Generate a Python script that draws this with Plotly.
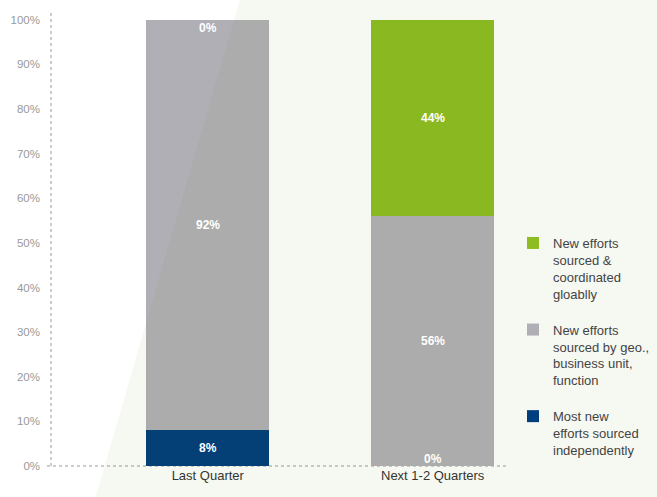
import plotly.graph_objects as go

categories = ["Last Quarter", "Next 1-2 Quarters"]
series_names = [
    "Most new<br>efforts sourced<br>independently",
    "New efforts<br>sourced by geo.,<br>business unit,<br>function",
    "New efforts<br>sourced &<br>coordinated<br>gloablly",
]
independent = [8, 0]
by_geo = [92, 56]
global_coord = [0, 44]
series_values = [independent, by_geo, global_coord]
series_colors = ["#003e7d", "#b0afb5", "#8ebc22"]
y_ticks = [0, 10, 20, 30, 40, 50, 60, 70, 80, 90, 100]

W, H = 657, 497
L, R, T, B = 51, 149, 10, 31
pw, ph = W - L - R, H - T - B

def px_x(p):
    return (p - L) / pw

def px_y(p):
    return (H - B - p) / ph

fig = go.Figure()
n = len(series_names)
for i, (name, vals, col) in enumerate(zip(series_names, series_values, series_colors)):
    fig.add_trace(go.Bar(
        x=categories, y=vals, name=name, marker=dict(color=col, line=dict(width=0)),
        width=0.547, legendgroup=f"g{i}", legendrank=n - i, textposition="none",
        hoverinfo="skip",
    ))

# value labels
annos = []
for ci, cat in enumerate(categories):
    base = 0
    for si, vals in enumerate(series_values):
        v = vals[ci]
        if v == 0:
            if si == 0:
                y, shift = base, 7
            else:
                y, shift = base, -8
        else:
            y, shift = base + v / 2, 0
        annos.append(dict(x=cat, y=y, yshift=shift, text=f"{v}%", showarrow=False,
                          font=dict(family="Liberation Sans", size=12, color="white", weight="bold")))
        base += v

shapes = [
    # pale diagonal background wash
    dict(type="path", xref="paper", yref="paper", layer="above",
         path=f"M {px_x(240)} {px_y(0)} L {px_x(700)} {px_y(0)} L {px_x(700)} {px_y(520)} L {px_x(89)} {px_y(520)} Z",
         fillcolor="rgba(70,120,0,0.05)", line=dict(width=0)),
    # dotted axes
    dict(type="line", xref="paper", yref="paper", x0=px_x(47), x1=1, y0=0, y1=0,
         line=dict(color="#9a9a9a", width=1, dash="dot"), layer="below"),
    dict(type="line", xref="paper", yref="paper", x0=0, x1=0, y0=0, y1=1,
         line=dict(color="#9a9a9a", width=1, dash="dot"), layer="below"),
]

fig.update_layout(
    width=W, height=H,
    margin=dict(l=L, r=R, t=T, b=B, pad=0, autoexpand=False),
    paper_bgcolor="white", plot_bgcolor="rgba(0,0,0,0)",
    barmode="stack", bargap=0,
    font=dict(family="Liberation Sans", color="#444"),
    showlegend=True,
    legend=dict(
        x=px_x(513), xanchor="left", y=px_y(228), yanchor="top",
        traceorder="grouped", tracegroupgap=16, valign="top",
        font=dict(size=13, color="#444"), bgcolor="rgba(0,0,0,0)",
    ),
    xaxis=dict(range=[-0.697, 1.335], showgrid=False, zeroline=False, showline=False,
               ticks="", tickfont=dict(size=13, color="#333"), fixedrange=True),
    yaxis=dict(range=[0, 102.2], tickvals=y_ticks, ticktext=[f"{t}%" for t in y_ticks],
               showgrid=False, zeroline=False, showline=False, ticks="",
               ticklabelstandoff=10, tickfont=dict(size=11.5, color="#999"), fixedrange=True),
    annotations=annos, shapes=shapes,
)

fig.write_html("out.html", config={"displayModeBar": False},
               post_script="document.body.style.margin='0';document.body.style.overflow='hidden';")
